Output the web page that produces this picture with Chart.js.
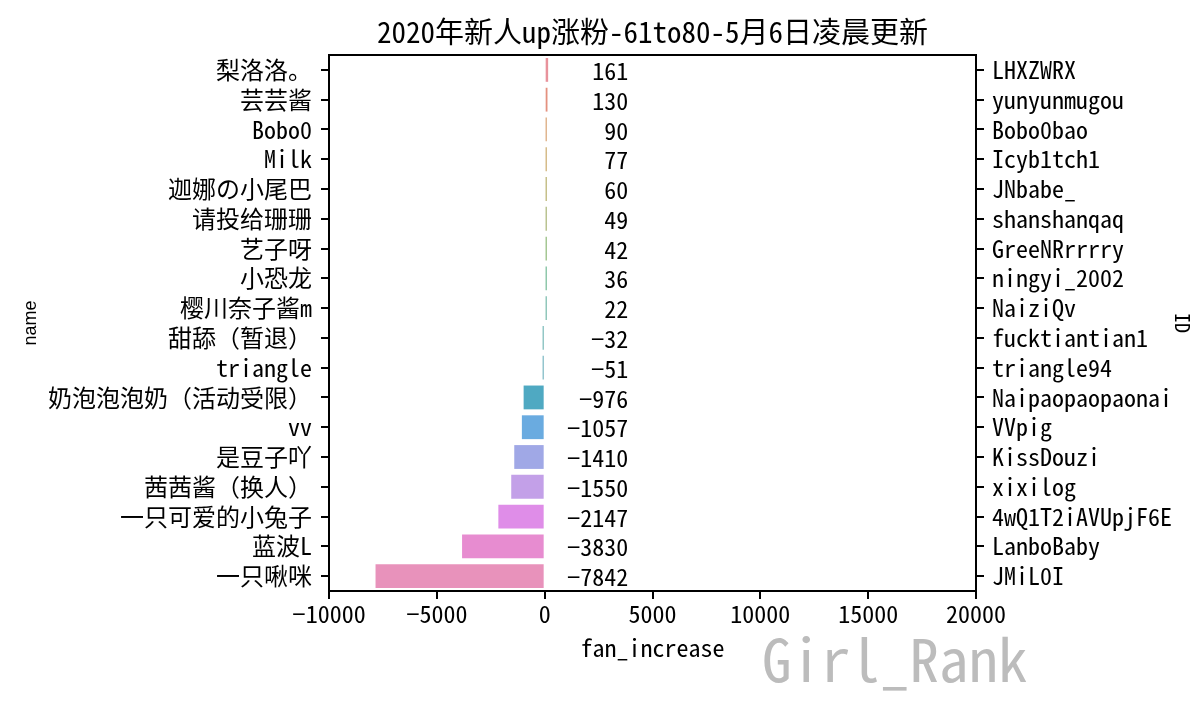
<!DOCTYPE html>
<html><head><meta charset="utf-8">
<script src="https://cdn.jsdelivr.net/npm/chart.js@4/dist/chart.umd.min.js"></script>
<style>html,body{margin:0;padding:0;background:#fff;}canvas{display:block;}</style>
</head><body>
<canvas id="c" width="1200" height="706"></canvas>
<script>
const chartTitle = '2020年新人up涨粉-61to80-5月6日凌晨更新';
const names = ['梨洛洛。','芸芸酱','Bobo0','Milk','迦娜の小尾巴','请投给珊珊','艺子呀','小恐龙','樱川奈子酱m','甜舔（暂退）','triangle','奶泡泡泡奶（活动受限）','vv','是豆子吖','茜茜酱（换人）','一只可爱的小兔子','蓝波L','一只啾咪'];
const ids = ['LHXZWRX','yunyunmugou','Bobo0bao','Icyb1tch1','JNbabe_','shanshanqaq','GreeNRrrrry','ningyi_2002','NaiziQv','fucktiantian1','triangle94','Naipaopaopaonai','VVpig','KissDouzi','xixilog','4wQ1T2iAVUpjF6E','LanboBaby','JMiL0I'];
const fanIncrease = [161,130,90,77,60,49,42,36,22,-32,-51,-976,-1057,-1410,-1550,-2147,-3830,-7842];
const xMin = -10000, xMax = 20000, xStep = 5000;
const labelAnchor = 3880; // value-text right edge, in data units
const barColors = ['#e8929c','#e4917f','#d19158','#c19a4f','#a9a04f','#97a55a','#78ab5d','#57ad80','#59ab99','#5cabaa','#5ea8b5','#4fa9c2','#6aabe0','#a0a8e6','#c3a0e8','#df8de8','#e78cd0','#e892bb'];
const watermark = 'Girl_Rank';

const FONT = '"Noto Sans Mono CJK SC", "Noto Sans CJK SC", sans-serif';
const fmt = v => (v < 0 ? '\u2212' + Math.abs(v) : String(v));

const extras = {
  id: 'extras',
  afterDatasetsDraw(chart) {
    const ctx = chart.ctx, xs = chart.scales.x, ys = chart.scales.y;
    ctx.save();
    ctx.font = '24px ' + FONT;
    ctx.fillStyle = '#000';
    ctx.textAlign = 'right';
    ctx.textBaseline = 'middle';
    fanIncrease.forEach((v, i) => {
      ctx.fillText(fmt(v), xs.getPixelForValue(labelAnchor), ys.getPixelForValue(i) + 1);
    });
    ctx.restore();
  },
  afterDraw(chart) {
    const ctx = chart.ctx, a = chart.chartArea;
    ctx.save();
    ctx.strokeStyle = '#000';
    ctx.lineWidth = 2;
    ctx.strokeRect(a.left, a.top, a.right - a.left, a.bottom - a.top);
    ctx.font = '29px ' + FONT;
    ctx.fillStyle = '#000';
    ctx.textAlign = 'center';
    ctx.textBaseline = 'middle';
    ctx.fillText(chartTitle, (a.left + a.right) / 2, 32);
    ctx.font = '59px ' + FONT;
    ctx.fillStyle = '#bcbcbc';
    ctx.textAlign = 'left';
    ctx.fillText(watermark, 762, 660);
    ctx.restore();
  }
};

new Chart(document.getElementById('c'), {
  type: 'bar',
  data: {
    labels: names,
    datasets: [{
      data: fanIncrease,
      backgroundColor: barColors,
      borderWidth: 0,
      minBarLength: 2,
      categoryPercentage: 0.8,
      barPercentage: 1.0
    }]
  },
  options: {
    indexAxis: 'y',
    responsive: false,
    animation: false,
    devicePixelRatio: 1,
    layout: { padding: { top: 55, left: 0, right: 0, bottom: 0 } },
    plugins: { legend: { display: false }, tooltip: { enabled: false }, title: { display: false } },
    scales: {
      x: {
        type: 'linear', position: 'bottom', min: xMin, max: xMax,
        afterFit: s => { s.height = 115; },
        ticks: { stepSize: xStep, color: '#000', font: { family: FONT, size: 24 }, padding: 0, maxRotation: 0, callback: v => fmt(v) },
        grid: { drawOnChartArea: false, drawTicks: true, tickLength: 8, color: '#000', lineWidth: 2 },
        border: { display: false },
        title: { display: true, text: 'fan_increase', color: '#000', font: { family: FONT, size: 24 }, padding: { top: 0, bottom: 44 } }
      },
      y: {
        type: 'category', position: 'left', offset: true,
        afterFit: s => { s.width = 329; },
        ticks: { color: '#000', font: { family: FONT, size: 24 }, padding: 9, autoSkip: false },
        grid: { offset: false, drawOnChartArea: false, drawTicks: true, tickLength: 8, color: '#000', lineWidth: 2 },
        border: { display: false },
        title: { display: true, text: 'name', color: '#000', font: { family: '"Liberation Sans", Arial, sans-serif', size: 18 }, padding: { top: 20, bottom: 0 } }
      },
      y2: {
        type: 'category', position: 'right', offset: true, labels: ids,
        afterFit: s => { s.width = 224; },
        ticks: { color: '#000', font: { family: FONT, size: 24 }, padding: 8, autoSkip: false },
        grid: { offset: false, drawOnChartArea: false, drawTicks: true, tickLength: 8, color: '#000', lineWidth: 2 },
        border: { display: false },
        title: { display: true, text: 'ID', color: '#000', font: { family: FONT, size: 20 }, padding: { top: 5, bottom: 0 } }
      }
    }
  },
  plugins: [extras]
});
</script>
</body></html>
